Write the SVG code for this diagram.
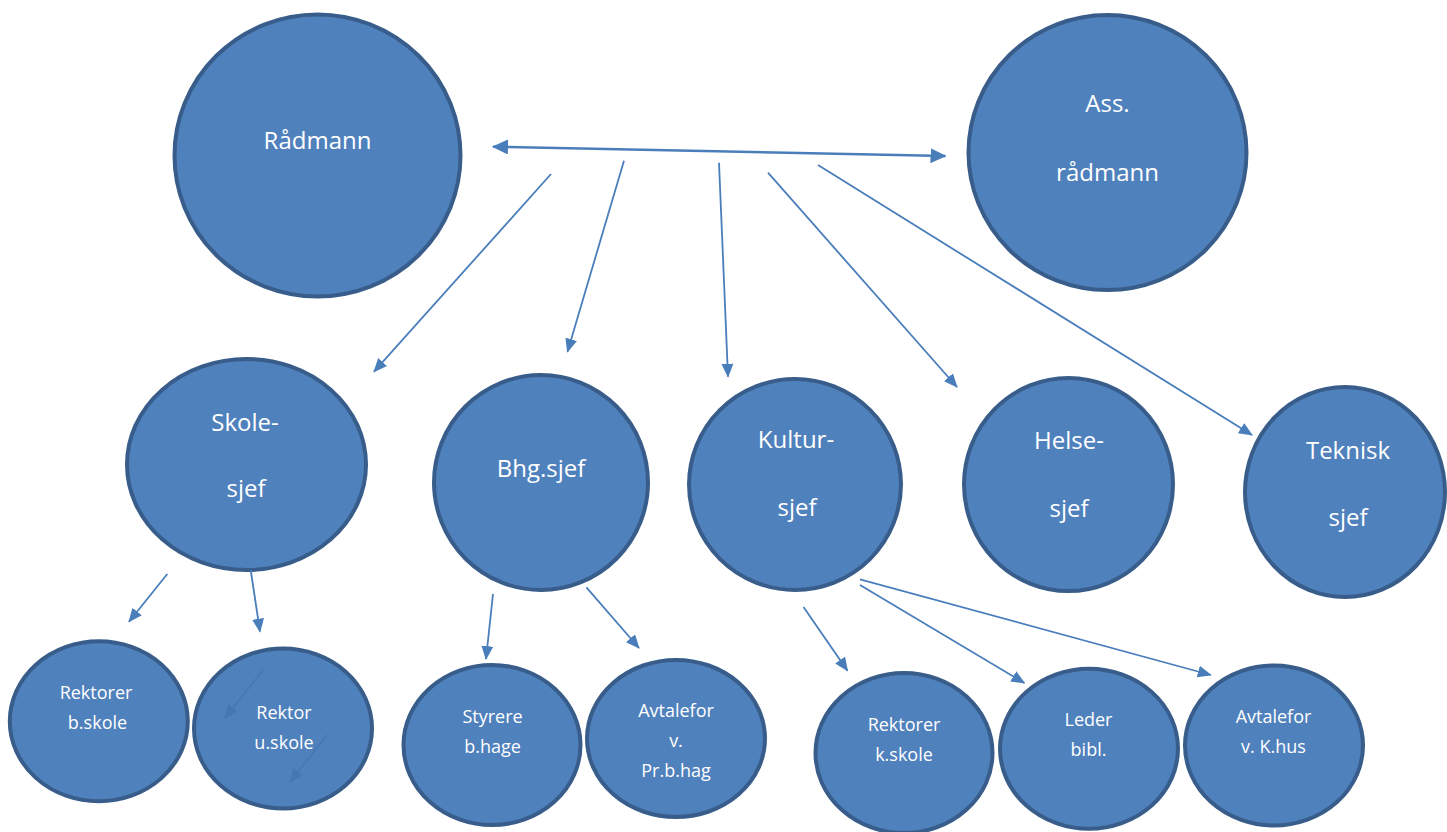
<svg xmlns="http://www.w3.org/2000/svg" width="1447" height="832" viewBox="0 0 1447 832">
<style>
.node ellipse{fill:#4f81bd;stroke:#385d8a;stroke-width:4}
.node text{fill:#ffffff;font-family:"Open Sans","Liberation Sans",sans-serif;text-anchor:middle}
.big text{font-size:24px}
.small text{font-size:18px}
.conn line{stroke:#4a7ebb;stroke-width:1.8;fill:none}
.faint line{stroke:#4677b0;stroke-width:1.5}
</style>
<defs>
<marker id="ah" markerUnits="userSpaceOnUse" markerWidth="14" markerHeight="12" refX="13" refY="6" orient="auto-start-reverse" viewBox="0 0 14 12">
<path d="M0,0 L14,6 L0,12 z" fill="#4a7ebb"/>
</marker>
<marker id="ahb" markerUnits="userSpaceOnUse" markerWidth="16" markerHeight="15" refX="15" refY="7.5" orient="auto-start-reverse" viewBox="0 0 16 15">
<path d="M0,0 L16,7.5 L0,15 z" fill="#4a7ebb"/>
</marker>
<marker id="ahf" markerUnits="userSpaceOnUse" markerWidth="14" markerHeight="12" refX="13" refY="6" orient="auto" viewBox="0 0 14 12">
<path d="M0,0 L14,6 L0,12 z" fill="#4677b0"/>
</marker>
</defs>
<rect width="1447" height="832" fill="#ffffff"/>

<g id="node-radmann" class="node big">
<ellipse cx="317.5" cy="155.5" rx="143" ry="141"/>
<text x="317.5" y="149">Rådmann</text>
</g>
<g id="node-ass-radmann" class="node big">
<ellipse cx="1107.5" cy="152.5" rx="139" ry="137.5"/>
<text x="1107.5" y="112">Ass.</text>
<text x="1107.5" y="181">rådmann</text>
</g>
<g id="node-skolesjef" class="node big">
<ellipse cx="246.5" cy="464.5" rx="119.5" ry="105.5"/>
<text x="245" y="431">Skole-</text>
<text x="246" y="497">sjef</text>
</g>
<g id="node-bhgsjef" class="node big">
<ellipse cx="541" cy="482.5" rx="107" ry="107.5"/>
<text x="541" y="477">Bhg.sjef</text>
</g>
<g id="node-kultursjef" class="node big">
<ellipse cx="795" cy="484.5" rx="106" ry="105.5"/>
<text x="796" y="448">Kultur-</text>
<text x="797" y="516">sjef</text>
</g>
<g id="node-helsesjef" class="node big">
<ellipse cx="1068.5" cy="484.5" rx="104.5" ry="106.5"/>
<text x="1069" y="449">Helse-</text>
<text x="1069" y="517">sjef</text>
</g>
<g id="node-tekniksjef" class="node big">
<ellipse cx="1345" cy="492" rx="100" ry="105"/>
<text x="1348" y="459">Teknisk</text>
<text x="1348" y="526">sjef</text>
</g>

<g id="node-rektorer-bskole" class="node small">
<ellipse cx="98.8" cy="721.3" rx="89" ry="80"/>
<text x="96" y="699">Rektorer</text>
<text x="97.5" y="729">b.skole</text>
</g>
<g id="node-rektor-uskole" class="node small">
<ellipse cx="283" cy="728.5" rx="89" ry="80"/>
<text x="284" y="719">Rektor</text>
<text x="284" y="749">u.skole</text>
</g>
<g id="node-styrere-bhage" class="node small">
<ellipse cx="492" cy="745" rx="88.5" ry="80"/>
<text x="492.5" y="723">Styrere</text>
<text x="492.5" y="753">b.hage</text>
</g>
<g id="node-avtalefor-prbhag" class="node small">
<ellipse cx="676" cy="738.5" rx="89" ry="78.5"/>
<text x="676" y="717">Avtalefor</text>
<text x="676" y="747">v.</text>
<text x="676" y="777">Pr.b.hag</text>
</g>
<g id="node-rektorer-kskole" class="node small">
<ellipse cx="904" cy="753" rx="88.5" ry="80"/>
<text x="904" y="731">Rektorer</text>
<text x="904" y="761">k.skole</text>
</g>
<g id="node-leder-bibl" class="node small">
<ellipse cx="1089" cy="748.7" rx="89" ry="80"/>
<text x="1088.5" y="726">Leder</text>
<text x="1088.5" y="756">bibl.</text>
</g>
<g id="node-avtalefor-khus" class="node small">
<ellipse cx="1274" cy="745.5" rx="89" ry="80"/>
<text x="1273.5" y="723">Avtalefor</text>
<text x="1273.5" y="753">v. K.hus</text>
</g>

<g id="connectors" class="conn">
<line x1="493" y1="146.7" x2="945.5" y2="156" stroke-width="2.5" style="stroke-width:2.5" marker-start="url(#ahb)" marker-end="url(#ahb)"/>
<line x1="551" y1="174" x2="374" y2="371.7" marker-end="url(#ah)"/>
<line x1="624" y1="160.7" x2="567.5" y2="351.7" marker-end="url(#ah)"/>
<line x1="719" y1="162.7" x2="728" y2="376.7" marker-end="url(#ah)"/>
<line x1="768" y1="172.7" x2="957" y2="387" marker-end="url(#ah)"/>
<line x1="818" y1="165" x2="1252" y2="435" marker-end="url(#ah)"/>
<line x1="167.3" y1="574" x2="129" y2="621.7" marker-end="url(#ah)"/>
<line x1="250.7" y1="570" x2="260" y2="631.7" marker-end="url(#ah)"/>
<line x1="493" y1="594" x2="486" y2="659" marker-end="url(#ah)"/>
<line x1="586.4" y1="587.3" x2="639" y2="648" marker-end="url(#ah)"/>
<line x1="803.5" y1="607" x2="847.5" y2="670.7" marker-end="url(#ah)"/>
<line x1="860" y1="585" x2="1024.4" y2="683" marker-end="url(#ah)"/>
<line x1="860" y1="579.3" x2="1210.8" y2="675" marker-end="url(#ah)"/>
<g class="faint">
<line x1="263" y1="670" x2="225" y2="718" marker-end="url(#ahf)"/>
<line x1="327" y1="735" x2="290" y2="782" marker-end="url(#ahf)"/>
</g>
</g>
</svg>
